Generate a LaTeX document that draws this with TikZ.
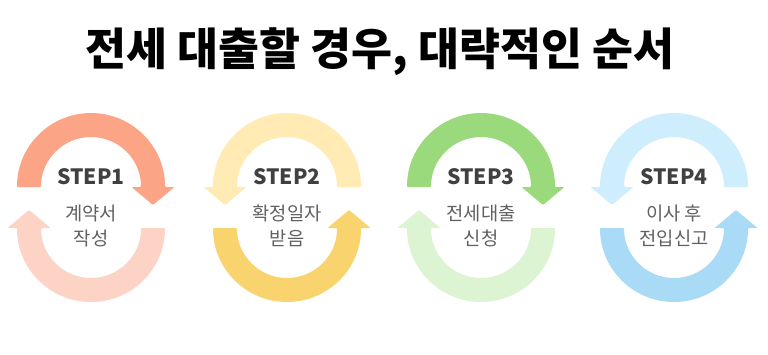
\documentclass[tikz,border=0pt]{standalone}
\usepackage{fontspec}
\setmainfont{Noto Sans CJK KR}
\definecolor{oneTop}{HTML}{FBA486}
\definecolor{oneBot}{HTML}{FDD3C6}
\definecolor{twoTop}{HTML}{FFEBB3}
\definecolor{twoBot}{HTML}{F9D46E}
\definecolor{threeTop}{HTML}{9BDA7C}
\definecolor{threeBot}{HTML}{DDF4D2}
\definecolor{fourTop}{HTML}{CFEEFD}
\definecolor{fourBot}{HTML}{A9DBF6}
\begin{document}
\begin{tikzpicture}[
    x=0.03cm, y=-0.03cm,
    heading/.style={font=\bfseries\fontsize{38}{42}\selectfont,text=black},
    steplabel/.style={font=\bfseries\fontsize{18}{20}\selectfont,text=black!75},
    stepdesc/.style={align=center,font=\fontsize{16}{21.5}\selectfont,text=black!62},
    pics/turnaround/.style 2 args={code={
        \fill[#1,rounded corners=0.8pt] (-74,-41) arc[start angle=180,end angle=360,radius=74]
            -- (83.5,-41) -- (62,-23) -- (40.5,-41) -- (50,-41)
            arc[start angle=360,end angle=180,radius=50] -- cycle;
        \fill[#2,rounded corners=0.8pt] (74,0) arc[start angle=0,end angle=180,radius=74]
            -- (-83.5,0) -- (-62,-18) -- (-40.5,0) -- (-50,0)
            arc[start angle=180,end angle=0,radius=50] -- cycle;
    }}
]
\fill[white] (0,0) rectangle (768,354);
\useasboundingbox (0,0) rectangle (768,354);

\node[heading] (title) at (380,52) {전세 대출할 경우, 대략적인 순서};

\pic at (91,228) {turnaround={oneTop}{oneBot}};
\pic[xscale=-1] at (287,228) {turnaround={twoTop}{twoBot}};
\pic at (481,228) {turnaround={threeTop}{threeBot}};
\pic[xscale=-1] at (674,228) {turnaround={fourTop}{fourBot}};

\node[steplabel] (step1) at (91,177) {STEP1};
\node[stepdesc] (desc1) at (91,226) {계약서\\작성};
\node[steplabel] (step2) at (287,177) {STEP2};
\node[stepdesc] (desc2) at (287,226) {확정일자\\받음};
\node[steplabel] (step3) at (481,177) {STEP3};
\node[stepdesc] (desc3) at (481,226) {전세대출\\신청};
\node[steplabel] (step4) at (674,177) {STEP4};
\node[stepdesc] (desc4) at (674,226) {이사 후\\전입신고};
\end{tikzpicture}
\end{document}
